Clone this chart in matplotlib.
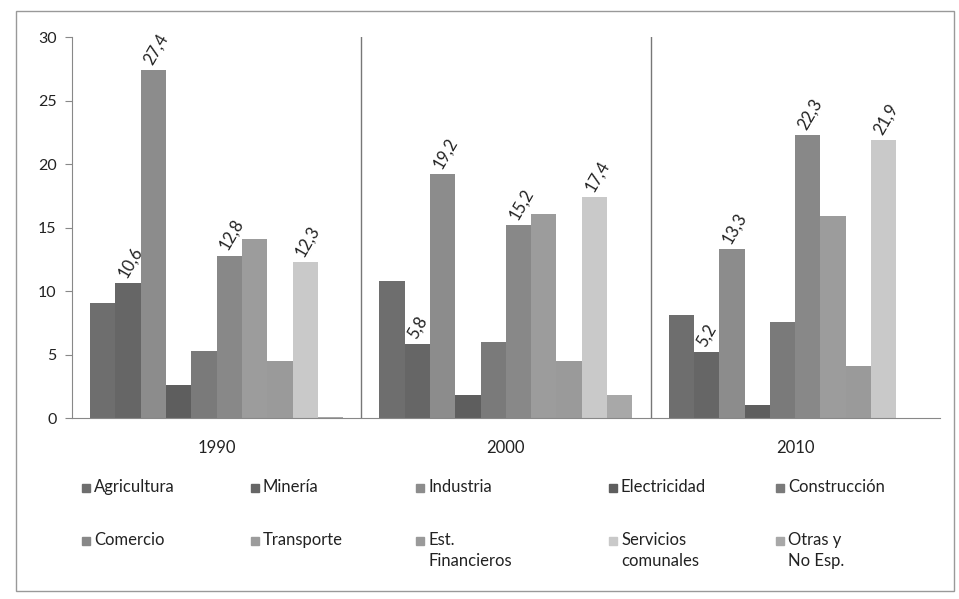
import numpy as np
import matplotlib
matplotlib.use("Agg")
import matplotlib.pyplot as plt
from matplotlib.patches import Rectangle

plt.rcParams['font.family'] = ['Lato', 'DejaVu Sans']

# datos (%)
years = ['1990', '2000', '2010']
sectors = ['Agricultura', 'Minería', 'Industria', 'Electricidad', 'Construcción',
           'Comercio', 'Transporte', 'Est.\nFinancieros', 'Servicios\ncomunales',
           'Otras y\nNo Esp.']
agricultura = [9.1, 10.8, 8.1]
mineria = [10.6, 5.8, 5.2]
industria = [27.4, 19.2, 13.3]
electricidad = [2.6, 1.8, 1.0]
construccion = [5.3, 6.0, 7.6]
comercio = [12.8, 15.2, 22.3]
transporte = [14.1, 16.1, 15.9]
est_financieros = [4.5, 4.5, 4.1]
servicios = [12.3, 17.4, 21.9]
otras = [0.1, 1.8, 0.0]
# solo algunas barras llevan etiqueta
labeled = ['Minería', 'Industria', 'Comercio', 'Servicios\ncomunales']

series = [agricultura, mineria, industria, electricidad, construccion,
          comercio, transporte, est_financieros, servicios, otras]
colors = ['#6e6e6e', '#666666', '#8c8c8c', '#5e5e5e', '#7a7a7a',
          '#888888', '#9c9c9c', '#9a9a9a', '#c9c9c9', '#a8a8a8']

fig = plt.figure(figsize=(9.59, 5.99), dpi=100)
ax = fig.add_axes([0.075, 0.302, 0.905, 0.636])

x = np.arange(len(years))
w = 0.0875
for i, (name, vals, col) in enumerate(zip(sectors, series, colors)):
    pos = x + (i - 4.5) * w
    ax.bar(pos, vals, width=w, color=col, edgecolor='none')
    if name in labeled:
        for px, v in zip(pos, vals):
            ax.annotate(f'{v:.1f}'.replace('.', ','), (px, v),
                        xytext=(-4, 5), textcoords='offset points',
                        rotation=60, rotation_mode='anchor',
                        ha='left', va='center', fontsize=12, color='#222222')

ax.set_xlim(-0.5, 2.5)
ax.set_ylim(0, 30)
ax.set_yticks(range(0, 31, 5))
ax.set_xticks(x)
ax.set_xticklabels(years, fontsize=12, color='#222222')
ax.tick_params(axis='x', length=0, pad=16)
ax.tick_params(axis='y', length=5, color='#888888', labelsize=11.5,
               labelcolor='#222222', pad=6)
for xs in [0.5, 1.5]:
    ax.axvline(xs, color='#777777', lw=1)
for s in ['top', 'right']:
    ax.spines[s].set_visible(False)
for s in ['left', 'bottom']:
    ax.spines[s].set_color('#888888')

# leyenda dibujada a mano, 2 filas x 5 columnas
col_x = [82, 251, 416, 609, 776]
row_y = [488, 541]
for k, (name, col) in enumerate(zip(sectors, colors)):
    r, c = divmod(k, 5)
    mx, my = col_x[c], row_y[r]
    fig.add_artist(Rectangle((mx / 959, 1 - (my + 4) / 599), 8 / 959, 8 / 599,
                             transform=fig.transFigure, color=col))
    fig.text((mx + 12) / 959, 1 - (my - 9) / 599, name, fontsize=12,
             va='top', ha='left', color='#222222', linespacing=1.4)

# borde del area del grafico
fig.add_artist(Rectangle((16 / 959, 8 / 599), 938 / 959, 580 / 599,
                         transform=fig.transFigure, fill=False,
                         edgecolor='#999999', lw=1))

fig.savefig('out.png', dpi=100)
